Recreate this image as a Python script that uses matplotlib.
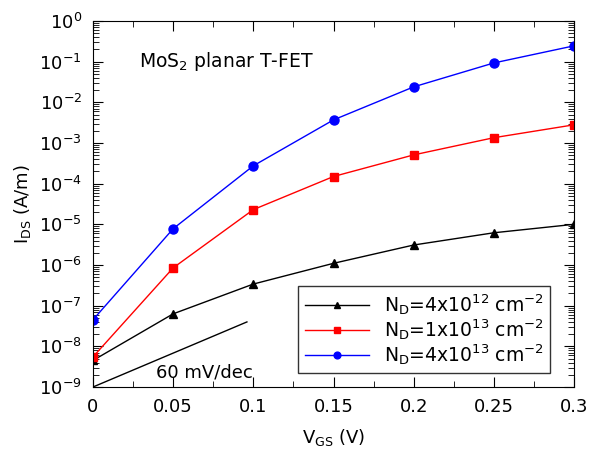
import matplotlib
matplotlib.use("Agg")
import matplotlib.pyplot as plt
from matplotlib.ticker import LogLocator, MultipleLocator, NullFormatter

# Gate voltage (V)
vgs = [0, 0.05, 0.1, 0.15, 0.2, 0.25, 0.3]

# Drain current (A/m) for the three doping levels
ids_4e12 = [4.5e-9, 6.3e-8, 3.4e-7, 1.1e-6, 3.1e-6, 6.2e-6, 1.0e-5]
ids_1e13 = [5.5e-9, 8.5e-7, 2.3e-5, 1.5e-4, 5.1e-4, 1.35e-3, 2.8e-3]
ids_4e13 = [4.5e-8, 7.8e-6, 2.75e-4, 3.7e-3, 2.4e-2, 9.3e-2, 0.245]

# 60 mV/dec reference line
ref_x = [0, 0.096]
ref_y = [1e-9, 1e-9 * 10 ** (0.096 / 0.06)]

plt.rcParams['font.family'] = 'DejaVu Sans'
plt.rcParams['mathtext.default'] = 'regular'

fig = plt.figure(figsize=(5.92, 4.63), dpi=100)
ax = fig.add_axes([93 / 592, 76 / 463, 481 / 592, 366 / 463])

ax.plot(vgs, ids_4e12, '-^', color='black', lw=1, ms=5.5,
        label=r'N$_D$=4x10$^{12}$ cm$^{-2}$')
ax.plot(vgs, ids_1e13, '-s', color='red', lw=1, ms=6,
        label=r'N$_D$=1x10$^{13}$ cm$^{-2}$')
ax.plot(vgs, ids_4e13, '-o', color='blue', lw=1, ms=6.5,
        label=r'N$_D$=4x10$^{13}$ cm$^{-2}$')
ax.plot(ref_x, ref_y, '-', color='black', lw=1)

ax.set_yscale('log')
ax.set_xlim(0, 0.3)
ax.set_ylim(1e-9, 1)
ax.xaxis.set_minor_locator(MultipleLocator(0.025))
ax.yaxis.set_major_locator(LogLocator(base=10, numticks=20))
ax.yaxis.set_minor_locator(LogLocator(base=10, subs=range(2, 10), numticks=20))
ax.yaxis.set_minor_formatter(NullFormatter())
ax.set_xticks([0, 0.05, 0.1, 0.15, 0.2, 0.25, 0.3])
ax.set_xticklabels(['0', '0.05', '0.1', '0.15', '0.2', '0.25', '0.3'])
ax.tick_params(which='both', direction='in', top=True, right=True, labelsize=13)
ax.tick_params(which='major', length=7, pad=8)
ax.tick_params(which='minor', length=4)

ax.set_xlabel(r'V$_{GS}$ (V)', fontsize=13, labelpad=8)
ax.set_ylabel(r'I$_{DS}$ (A/m)', fontsize=13)

ax.text(0.029, 0.072, r'MoS$_2$ planar T-FET', fontsize=13.5)
ax.text(0.039, 1.7e-9, '60 mV/dec', fontsize=13)

leg = ax.legend(loc='lower right', bbox_to_anchor=(0.95, 0.038), fontsize=13.5,
                frameon=True, fancybox=False, edgecolor='black',
                handlelength=3.4, labelspacing=0.0, borderpad=0.35,
                handletextpad=0.8, markerscale=0.75, borderaxespad=0)
leg.get_frame().set_linewidth(1)

fig.savefig('out.png', dpi=100)
